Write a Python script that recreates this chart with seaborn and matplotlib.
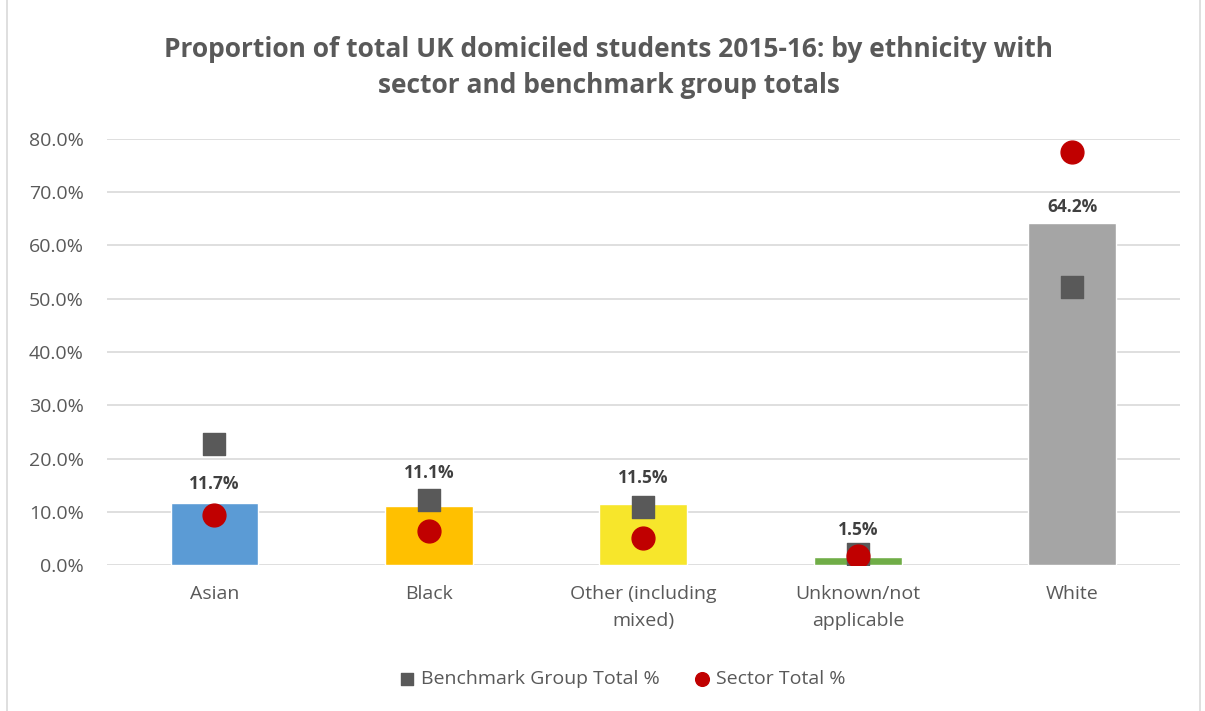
import numpy as np
import pandas as pd
import matplotlib.pyplot as plt
import seaborn as sns
from matplotlib.patches import Rectangle
from matplotlib.ticker import PercentFormatter

categories = ["Asian", "Black", "Other (including\nmixed)", "Unknown/not\napplicable", "White"]
institution_pct = [11.7, 11.1, 11.5, 1.5, 64.2]
benchmark_pct = [22.8, 12.2, 10.9, 2.2, 52.2]
sector_pct = [9.4, 6.4, 5.1, 1.7, 77.5]
bar_colors = ["#5B9BD5", "#FFC000", "#F7E62B", "#70AD47", "#A5A5A5"]
# data labels were nudged by hand in the original to dodge the markers (points)
label_offsets = [7, 17, 12, 13, 5]

df = pd.DataFrame({"cat": categories, "inst": institution_pct,
                   "bench": benchmark_pct, "sector": sector_pct})

sns.set_theme(style="white")
plt.rcParams["font.family"] = ["Open Sans", "DejaVu Sans"]
text_col = "#595959"

fig = plt.figure(figsize=(12.05, 7.11), dpi=100)
ax = fig.add_axes([0.089, 0.205, 0.89, 0.6])

sns.barplot(data=df, x="cat", y="inst", hue="cat", palette=bar_colors,
            width=0.41, legend=False, ax=ax, zorder=2, saturation=1)
ax.scatter(df["cat"], df["bench"], marker="s", s=230, color="#595959",
           zorder=3, label="Benchmark Group Total %")
ax.scatter(df["cat"], df["sector"], marker="o", s=270, color="#C00000",
           zorder=4, label="Sector Total %")

for i, v in enumerate(institution_pct):
    ax.annotate(f"{v:.1f}%", (i, v), xytext=(0, label_offsets[i]),
                textcoords="offset points", ha="center", va="bottom",
                fontsize=12.5, fontweight="bold", color="#404040", zorder=5)

ax.set_ylim(0, 80)
ax.set_xlim(-0.5, 4.5)
ax.set_yticks(np.arange(0, 81, 10))
ax.yaxis.set_major_formatter(PercentFormatter(decimals=1))
ax.grid(axis="y", color="#D9D9D9", linewidth=1.2, zorder=0)
ax.set_axisbelow(True)
for s in ax.spines.values():
    s.set_visible(False)
ax.tick_params(axis="both", length=0, labelsize=14, colors=text_col)
ax.tick_params(axis="y", pad=17)
ax.tick_params(axis="x", pad=14)
for t in ax.get_xticklabels():
    t.set_linespacing(1.7)
ax.set_xlabel("")
ax.set_ylabel("")

fig.text(0.505, 0.905, "Proportion of total UK domiciled students 2015-16: by ethnicity with\nsector and benchmark group totals",
         ha="center", va="center", fontsize=19, fontweight="bold", color=text_col,
         linespacing=1.4)

ax.legend(loc="center", bbox_to_anchor=(0.475, -0.267), ncol=2, frameon=False,
          fontsize=14, labelcolor=text_col, handletextpad=-0.3, columnspacing=1.2,
          markerscale=0.6)

fig.patches.append(Rectangle((0.006, -0.01), 0.99, 1.02, transform=fig.transFigure,
                             fill=False, edgecolor="#D9D9D9", linewidth=1.2))

fig.savefig("out.png", dpi=100)
